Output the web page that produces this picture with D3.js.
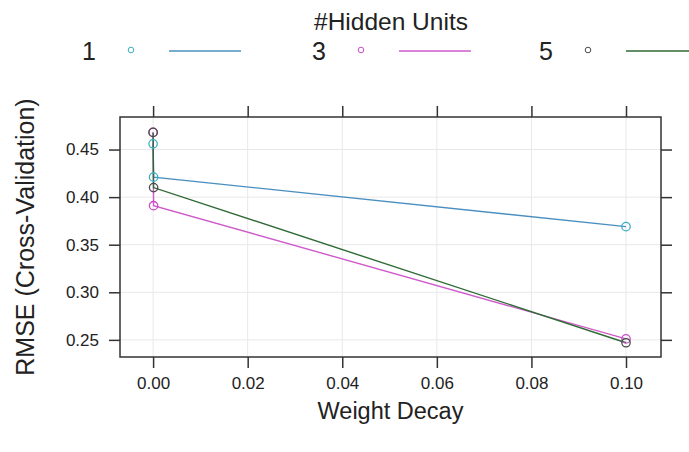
<!DOCTYPE html>
<html>
<head>
<meta charset="utf-8">
<script src="https://cdn.jsdelivr.net/npm/d3@7"></script>
<style>
  body { margin: 0; background: #fff; }
  text { font-family: "Liberation Sans", Arial, sans-serif; fill: #222; }
</style>
</head>
<body>
<svg id="chart" width="689" height="452"></svg>
<script>
const width = 689;
const height = 452;
const marginTop = 117;
const marginRight = 28;
const marginBottom = 95;
const marginLeft = 120;

// data
const decay = [0, 0.0001, 0.1];
const hiddenUnits = ["1", "3", "5"];
const rmse1 = [0.456, 0.421, 0.369];
const rmse3 = [0.468, 0.391, 0.251];
const rmse5 = [0.468, 0.410, 0.247];
const xTicks = [0, 0.02, 0.04, 0.06, 0.08, 0.10];
const yTicks = [0.25, 0.30, 0.35, 0.40, 0.45];

const lineColors = ["#4a8fc0", "#cf5acb", "#2f6a35"];
const pointColors = ["#3aaec6", "#c94cc6", "#4a4a4a"];

const series = [rmse1, rmse3, rmse5].map((vals, i) => ({
  name: hiddenUnits[i],
  values: vals.map((v, j) => ({ x: decay[j], y: v }))
}));

const svg = d3.select("#chart");

const x = d3.scaleLinear()
  .domain([-0.007, 0.1074])
  .range([marginLeft, width - marginRight]);

const y = d3.scaleLinear()
  .domain([0.232, 0.4842])
  .range([height - marginBottom, marginTop]);

// grid
svg.append("g")
  .attr("stroke", "#e8e8e8")
  .selectAll("line")
  .data(xTicks)
  .join("line")
  .attr("x1", d => x(d)).attr("x2", d => x(d))
  .attr("y1", marginTop).attr("y2", height - marginBottom);

svg.append("g")
  .attr("stroke", "#e8e8e8")
  .selectAll("line")
  .data(yTicks)
  .join("line")
  .attr("y1", d => y(d)).attr("y2", d => y(d))
  .attr("x1", marginLeft).attr("x2", width - marginRight);

// axes, ticks on all four sides, labels left and bottom
const fmt = d3.format(".2f");
svg.append("g")
  .attr("transform", `translate(0,${height - marginBottom})`)
  .call(d3.axisBottom(x).tickValues(xTicks).tickFormat(fmt).tickSize(11).tickPadding(9))
  .call(g => g.select(".domain").remove())
  .call(g => g.selectAll("line").attr("stroke", "#333").attr("stroke-width", 1.5))
  .call(g => g.selectAll("text").attr("font-size", 17).attr("font-family", "Liberation Sans").attr("fill", "#333"));

svg.append("g")
  .attr("transform", `translate(0,${marginTop})`)
  .call(d3.axisTop(x).tickValues(xTicks).tickFormat("").tickSize(11))
  .call(g => g.select(".domain").remove())
  .call(g => g.selectAll("line").attr("stroke", "#333").attr("stroke-width", 1.5));

svg.append("g")
  .attr("transform", `translate(${marginLeft},0)`)
  .call(d3.axisLeft(y).tickValues(yTicks).tickFormat(fmt).tickSize(11).tickPadding(10))
  .call(g => g.select(".domain").remove())
  .call(g => g.selectAll("line").attr("stroke", "#333").attr("stroke-width", 1.5))
  .call(g => g.selectAll("text").attr("font-size", 17).attr("font-family", "Liberation Sans").attr("fill", "#333"));

svg.append("g")
  .attr("transform", `translate(${width - marginRight},0)`)
  .call(d3.axisRight(y).tickValues(yTicks).tickFormat("").tickSize(11))
  .call(g => g.select(".domain").remove())
  .call(g => g.selectAll("line").attr("stroke", "#333").attr("stroke-width", 1.5));

// panel box
svg.append("rect")
  .attr("x", marginLeft).attr("y", marginTop)
  .attr("width", width - marginLeft - marginRight)
  .attr("height", height - marginTop - marginBottom)
  .attr("fill", "none")
  .attr("stroke", "#333")
  .attr("stroke-width", 1.5);

// lines
const line = d3.line().x(d => x(d.x)).y(d => y(d.y));
svg.append("g")
  .selectAll("path")
  .data(series)
  .join("path")
  .attr("fill", "none")
  .attr("stroke", (d, i) => lineColors[i])
  .attr("stroke-width", 1.4)
  .attr("d", d => line(d.values));

// points
series.forEach((s, i) => {
  svg.append("g")
    .selectAll("circle")
    .data(s.values)
    .join("circle")
    .attr("cx", d => x(d.x))
    .attr("cy", d => y(d.y))
    .attr("r", 4.2)
    .attr("fill", "none")
    .attr("stroke", pointColors[i])
    .attr("stroke-width", 1.3);
});

// legend
svg.append("text")
  .attr("x", 391).attr("y", 30)
  .attr("text-anchor", "middle")
  .attr("font-size", 24.5)
  .text("#Hidden Units");

const legendX = [89, 319, 546];
const legend = svg.append("g")
  .selectAll("g")
  .data(hiddenUnits)
  .join("g")
  .attr("transform", (d, i) => `translate(${legendX[i]},51)`);

legend.append("text")
  .attr("x", 0).attr("y", 9)
  .attr("text-anchor", "middle")
  .attr("font-size", 25)
  .text(d => d);

legend.append("circle")
  .attr("cx", 42).attr("cy", -1).attr("r", 2.8)
  .attr("fill", "none")
  .attr("stroke", (d, i) => pointColors[i])
  .attr("stroke-width", 1);

legend.append("line")
  .attr("x1", 80).attr("x2", 152)
  .attr("y1", 0).attr("y2", 0)
  .attr("stroke", (d, i) => lineColors[i])
  .attr("stroke-width", 1.6);

// axis titles
svg.append("text")
  .attr("x", (marginLeft + width - marginRight) / 2)
  .attr("y", 419)
  .attr("text-anchor", "middle")
  .attr("font-size", 23.5)
  .text("Weight Decay");

svg.append("text")
  .attr("transform", `translate(34,${(marginTop + height - marginBottom) / 2}) rotate(-90)`)
  .attr("text-anchor", "middle")
  .attr("font-size", 25)
  .text("RMSE (Cross-Validation)");
</script>
</body>
</html>
